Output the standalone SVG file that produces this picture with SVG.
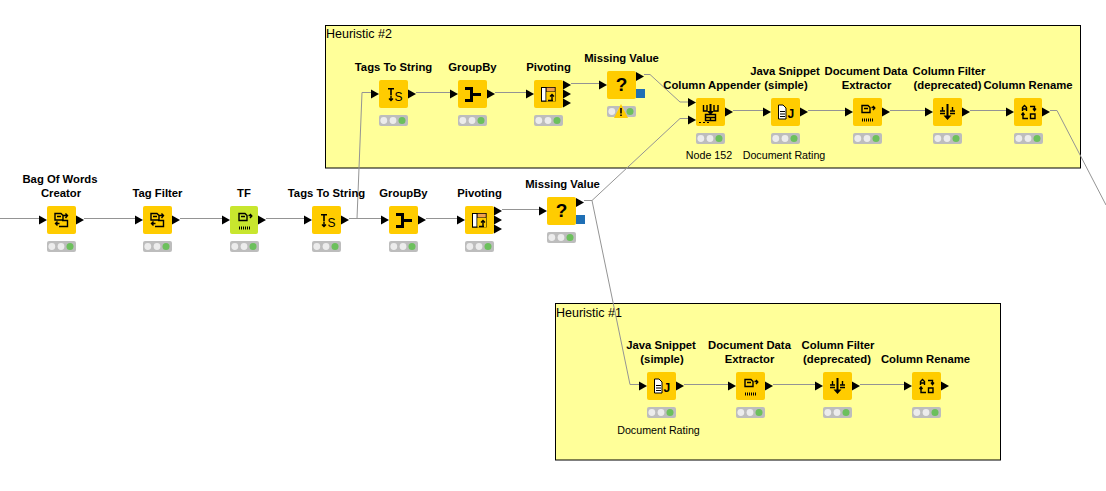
<svg xmlns="http://www.w3.org/2000/svg" width="1106" height="491" viewBox="0 0 1106 491">
<style>
text{font-family:"Liberation Sans",Arial,sans-serif;fill:#000}
.t{font-size:11.3px;font-weight:bold;text-anchor:middle}
.c{font-size:10.7px;text-anchor:middle}
.a{font-size:12.5px}
.box{fill:#ffff99;stroke:#000;stroke-width:1}
.edge{fill:none;stroke:#949494;stroke-width:1}
.b{fill:#ffcc00}
.g{fill:#c8e62e}
.i{fill:none;stroke:#000;stroke-width:1.4}
.k{fill:#000}
</style>
<defs>
<path id="pi" d="M-8 9.500L0 14L-8 18.500Z"/>
<path id="po" d="M29 9.500L37 14L29 18.500Z"/>
<path id="p3" d="M29 0.500L37 5L29 9.500ZM29 9.500L37 14L29 18.500ZM29 18.500L37 23L29 27.500Z"/>
<g id="st">
<rect x="0" y="35" width="29" height="11" rx="2" fill="#bdbdbd"/>
<circle cx="4.800" cy="40.500" r="3.400" fill="#ececec"/>
<circle cx="14" cy="40.500" r="3.400" fill="#ececec"/>
<circle cx="23" cy="40.500" r="3.500" fill="#6cc05c"/>
</g>
<g id="doc">
<path class="i" d="M8 7.500H14L16 9.500V14H8ZM10 10.500H14"/>
<path class="i" d="M16 9.500H20M18.500 7.500L20.500 9.500L18.500 12M8.500 17.500H12.500M10.500 15.500L8.500 17.500L10.500 19.500M15 14.500H20.500V20.500H12"/>
</g>
<g id="dx">
<path class="i" d="M9 7.500H15L17 9.500V14.500H9ZM11 10.500H15"/>
<path class="i" d="M18.500 9.500H21.500M20 8L21.800 10L20 12"/>
</g>
<g id="tags">
<path class="k" d="M9 8H15V9.500H12.800V15H11.200V9.500H9Z"/>
<path class="i" d="M12 15.500V20.500M10 18.500L12 20.500L14 18.500"/>
<text x="15.500" y="20.500" style="font-size:12px">S</text>
</g>
<g id="grp"><path class="k" d="M7 7H15V13H23V16H15V22H7V19H12V10H7Z"/></g>
<g id="piv">
<rect x="7.500" y="7.500" width="13.500" height="13.500" fill="none" stroke="#000"/>
<rect x="12" y="7.500" width="9" height="4" fill="#f0a050" stroke="#000" stroke-width="0.500"/>
<rect x="7.500" y="7.500" width="4.500" height="13.500" fill="#fff" stroke="#000"/>
<rect x="12.500" y="12" width="8.500" height="9.500" fill="#ffcc00"/>
<path class="i" d="M18 20V14.500M16 16.500L18 14.500L20 16.500M14 20.500H19"/>
</g>
<g id="q"><text x="14.500" y="20" style="font-size:19px;font-weight:bold;text-anchor:middle">?</text></g>
<g id="app">
<path class="i" d="M7.500 7V13H11V7M22 7V13H18V7"/>
<path class="k" d="M13.500 6H15.500V13H18L14.500 17L11 13H13.500Z"/>
<path class="i" d="M9.500 16.500H19.500V22.500H9.500ZM9.500 19.500H19.500M14.500 19.500V22.500"/>
<path d="M3 24.500H5M7 24.500H9M11 24.500H13" stroke="#000"/>
</g>
<g id="js">
<path d="M7.500 7H12L15 10V21H7.500Z" fill="#fff" stroke="#000"/>
<path class="k" d="M9 13H14V14H9ZM9 15.500H14V16.500H9ZM9 18H14V19H9Z"/>
<text x="16.500" y="20" style="font-size:12px;font-weight:bold">J</text>
</g>
<g id="cf">
<path class="i" d="M7 13H12M7 15.500H12M17 13H22M17 15.500H22M9.500 9V12.500M19.500 9V12.500"/>
<path class="k" d="M13.500 6H15.500V17.500H18.500L14.500 22L10.500 17.500H13.500Z"/>
</g>
<g id="cr">
<path class="i" d="M8.500 13V9.500L10.500 7.500L12.500 9.500V13M8.500 11H12.500M16 8.500H20.500V12M19 10.500L20.500 12.500L22 10.500M9 15V20.500H14M7.500 17L9 15L10.500 17M16.500 16H21V20.500H16.500Z"/>
</g>
<g id="tx"><path d="M9 22H21" stroke="#000" stroke-width="3" stroke-dasharray="1 1"/></g>
</defs>

<rect class="box" x="325.500" y="25.500" width="755" height="142.500"/>
<text class="a" x="326" y="38">Heuristic #2</text>
<rect class="box" x="555.500" y="303.500" width="445" height="156.500"/>
<text class="a" x="556" y="317">Heuristic #1</text>

<g id="connectors">
<path class="edge" d="M0 218.500H39"/>
<path class="edge" d="M84 218.500H135"/>
<path class="edge" d="M180 218.500H222"/>
<path class="edge" d="M266 218.500H304"/>
<path class="edge" d="M349 218.500H381"/>
<path class="edge" d="M357 218.500L362 92.500H371"/>
<path class="edge" d="M426 218.500H457"/>
<path class="edge" d="M502 209.500H539"/>
<path class="edge" d="M584 200.500H592L680 118.500H688"/>
<path class="edge" d="M592 200.500L630 384.500H639"/>
<path class="edge" d="M416 92.500H450"/>
<path class="edge" d="M495 92.500H526"/>
<path class="edge" d="M571 83.500H599"/>
<path class="edge" d="M644 74.500H650L680 102H688"/>
<path class="edge" d="M733 110.500H763"/>
<path class="edge" d="M808 110.500H845"/>
<path class="edge" d="M890 110.500H925"/>
<path class="edge" d="M970 110.500H1006"/>
<path class="edge" d="M1050 110.500H1057L1106 205"/>
<path class="edge" d="M684 384.500H728"/>
<path class="edge" d="M773 384.500H815"/>
<path class="edge" d="M860 384.500H904"/>
</g>

<g id="bow" transform="translate(47,206)"><rect class="b" width="29" height="28" rx="2"/><use href="#doc"/><use href="#pi"/><use href="#po"/><use href="#st"/></g>
<text class="t" x="60" y="183">Bag Of Words</text><text class="t" x="61" y="197">Creator</text>
<g id="tagfilter" transform="translate(143,206)"><rect class="b" width="29" height="28" rx="2"/><use href="#doc"/><use href="#pi"/><use href="#po"/><use href="#st"/></g>
<text class="t" x="157.500" y="197">Tag Filter</text>
<g id="tf" transform="translate(230,206)"><rect class="g" width="28" height="28" rx="2"/><use href="#dx"/><use href="#tx"/><use href="#pi"/><use href="#po" x="-1"/><use href="#st"/></g>
<text class="t" x="244" y="197">TF</text>
<g id="tags1" transform="translate(312,206)"><rect class="b" width="29" height="28" rx="2"/><use href="#tags"/><use href="#pi"/><use href="#po"/><use href="#st"/></g>
<text class="t" x="326.500" y="197">Tags To String</text>
<g id="group1" transform="translate(389,206)"><rect class="b" width="29" height="28" rx="2"/><use href="#grp"/><use href="#pi"/><use href="#po"/><use href="#st"/></g>
<text class="t" x="403.500" y="197">GroupBy</text>
<g id="pivot1" transform="translate(465,206)"><rect class="b" width="29" height="28" rx="2"/><use href="#piv"/><use href="#pi"/><use href="#p3"/><use href="#st"/></g>
<text class="t" x="479.500" y="197">Pivoting</text>
<g id="miss1" transform="translate(547,197)"><rect class="b" width="29" height="28" rx="2"/><use href="#q"/><use href="#pi"/><path d="M29 1L37 5.500L29 10Z"/><rect x="29" y="18" width="9" height="9" fill="#1f6fb5"/><use href="#st"/></g>
<text class="t" x="562.500" y="188">Missing Value</text>

<g id="tags2" transform="translate(379,80)"><rect class="b" width="29" height="28" rx="2"/><use href="#tags"/><use href="#pi"/><use href="#po"/><use href="#st"/></g>
<text class="t" x="393.500" y="71">Tags To String</text>
<g id="group2" transform="translate(458,80)"><rect class="b" width="29" height="28" rx="2"/><use href="#grp"/><use href="#pi"/><use href="#po"/><use href="#st"/></g>
<text class="t" x="472.500" y="71">GroupBy</text>
<g id="pivot2" transform="translate(534,80)"><rect class="b" width="29" height="28" rx="2"/><use href="#piv"/><use href="#pi"/><use href="#p3"/><use href="#st"/></g>
<text class="t" x="548.500" y="71">Pivoting</text>
<g id="miss2" transform="translate(607,71)"><rect class="b" width="29" height="28" rx="2"/><use href="#q"/><use href="#pi"/><path d="M29 1L37 5.500L29 10Z"/><rect x="29" y="18" width="9" height="9" fill="#1f6fb5"/><use href="#st"/><path d="M14 33L21 47H7Z" fill="#ffcc00"/><path class="k" d="M13.200 37H14.800V42.500H13.200ZM13.200 43.500H14.800V45H13.200Z"/></g>
<text class="t" x="621.500" y="62">Missing Value</text>
<g id="append" transform="translate(696,98)"><rect class="b" width="29" height="28" rx="2"/><use href="#app"/><path d="M-8 0L0 4.500L-8 9Z"/><path d="M-8 17.500L0 22L-8 26.500Z"/><use href="#po"/><use href="#st"/></g>
<text class="t" x="712" y="89">Column Appender</text><text class="c" x="709" y="159">Node 152</text>
<g id="java2" transform="translate(771,98)"><rect class="b" width="29" height="28" rx="2"/><use href="#js"/><use href="#pi"/><use href="#po"/><use href="#st"/></g>
<text class="t" x="785" y="75">Java Snippet</text><text class="t" x="786" y="89">(simple)</text><text class="c" x="784" y="159">Document Rating</text>
<g id="extract2" transform="translate(853,98)"><rect class="b" width="29" height="28" rx="2"/><use href="#dx"/><use href="#tx"/><use href="#pi"/><use href="#po"/><use href="#st"/></g>
<text class="t" x="866" y="75">Document Data</text><text class="t" x="866.500" y="89">Extractor</text>
<g id="filter2" transform="translate(933,98)"><rect class="b" width="29" height="28" rx="2"/><use href="#cf"/><use href="#pi"/><use href="#po"/><use href="#st"/></g>
<text class="t" x="949" y="75">Column Filter</text><text class="t" x="947.500" y="89">(deprecated)</text>
<g id="rename2" transform="translate(1014,98)"><rect class="b" width="28" height="28" rx="2"/><use href="#cr"/><use href="#pi"/><use href="#po" x="-1"/><use href="#st"/></g>
<text class="t" x="1028" y="89">Column Rename</text>

<g id="java1" transform="translate(647,372)"><rect class="b" width="29" height="28" rx="2"/><use href="#js"/><use href="#pi"/><use href="#po"/><use href="#st"/></g>
<text class="t" x="661" y="349">Java Snippet</text><text class="t" x="662" y="363">(simple)</text><text class="c" x="658.500" y="434">Document Rating</text>
<g id="extract1" transform="translate(736,372)"><rect class="b" width="29" height="28" rx="2"/><use href="#dx"/><use href="#tx"/><use href="#pi"/><use href="#po"/><use href="#st"/></g>
<text class="t" x="749.500" y="349">Document Data</text><text class="t" x="749.500" y="363">Extractor</text>
<g id="filter1" transform="translate(823,372)"><rect class="b" width="29" height="28" rx="2"/><use href="#cf"/><use href="#pi"/><use href="#po"/><use href="#st"/></g>
<text class="t" x="838" y="349">Column Filter</text><text class="t" x="837" y="363">(deprecated)</text>
<g id="rename1" transform="translate(912,372)"><rect class="b" width="29" height="28" rx="2"/><use href="#cr"/><use href="#pi"/><use href="#po"/><use href="#st"/></g>
<text class="t" x="925.500" y="363">Column Rename</text>
</svg>
